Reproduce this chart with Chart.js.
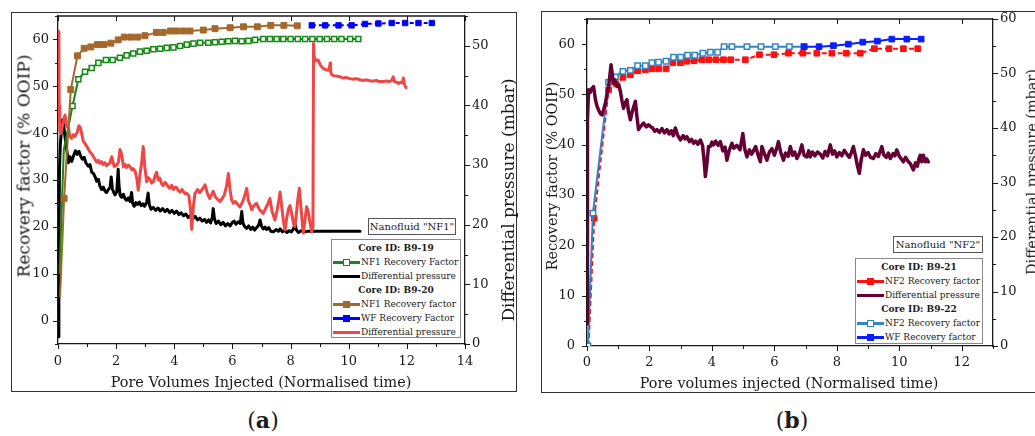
<!DOCTYPE html>
<html>
<head>
<meta charset="utf-8">
<script src="https://cdn.jsdelivr.net/npm/chart.js@4.4.1/dist/chart.umd.min.js"></script>
<style>
  html, body { margin: 0; padding: 0; background: #fff; }
  body { position: relative; width: 1035px; height: 436px; overflow: hidden;
         font-family: "DejaVu Serif", serif; color: #1a1a1a; }
  .frame { position: absolute; border: 1.5px solid #333; box-sizing: border-box; }
  canvas { position: absolute; top: 0; }
  .t { position: absolute; white-space: nowrap; font-size: 14.4px; line-height: 1; }
  .big { font-size: 17px; }
  .h { transform: translate(-50%, -50%); }
  .v { transform: translate(-50%, -50%) rotate(-90deg); }
  .tag { position: absolute; font-size: 22px; transform: translate(-50%, -50%); line-height: 1; }
  .note { position: absolute; border: 1.3px solid #555; background: #fff; box-sizing: border-box;
          font-size: 10px; display: flex; align-items: center; justify-content: center; white-space: nowrap; }
  .legend { position: absolute; border: 1px solid #888; background: #fff; box-sizing: border-box; font-size: 9px; }
  .legend .hdr { position: absolute; left: 0; right: 0; text-align: center; font-weight: bold;
                 transform: translateY(-50%); line-height: 1; }
  .legend .row { position: absolute; left: 0; right: 0; height: 0; }
  .legend .ln { position: absolute; left: 1px; width: 27px; top: -1.5px; height: 3px; }
  .legend .mk { position: absolute; left: 11px; top: -3.5px; width: 7px; height: 7px; box-sizing: border-box; }
  .legend .tx { position: absolute; left: 29px; top: 0; transform: translateY(-50%); white-space: nowrap; line-height: 1; }
</style>
</head>
<body>

<div class="frame" style="left:11px;top:12px;width:506px;height:380px"></div>
<div class="frame" style="left:541px;top:11px;width:520px;height:382px"></div>

<canvas id="chartA" width="525" height="400" style="left:0"></canvas>
<canvas id="chartB" width="505" height="400" style="left:530px"></canvas>

<!-- panel (a) text -->
<div class="t big v" style="left:24px;top:166px">Recovery factor (% OOIP)</div>
<div class="t big v" style="left:508px;top:200px">Differential pressure (mbar)</div>
<div class="t h" style="left:261px;top:382px">Pore Volumes Injected (Normalised time)</div>
<div class="tag" style="left:263px;top:420px">(<b>a</b>)</div>

<div class="note" style="left:368px;top:218px;width:88px;height:17px">Nanofluid "NF1"</div>
<div class="legend" style="left:331px;top:239px;width:130px;height:99px">
  <div class="hdr" style="top:8px">Core ID: B9-19</div>
  <div class="row" style="top:22px"><span class="ln" style="background:#138a13"></span><span class="mk" style="border:1.5px solid #138a13;background:#fff"></span><span class="tx">NF1 Recovery Factor</span></div>
  <div class="row" style="top:36px"><span class="ln" style="background:#000"></span><span class="tx">Differential pressure</span></div>
  <div class="hdr" style="top:50px">Core ID: B9-20</div>
  <div class="row" style="top:64px"><span class="ln" style="background:#a5682c"></span><span class="mk" style="background:#a5682c"></span><span class="tx">NF1 Recovery factor</span></div>
  <div class="row" style="top:78px"><span class="ln" style="background:#0000ff"></span><span class="mk" style="background:#0000ff"></span><span class="tx">WF Recovery Factor</span></div>
  <div class="row" style="top:92px"><span class="ln" style="background:#f04646"></span><span class="tx">Differential pressure</span></div>
</div>

<!-- panel (b) text -->
<div class="t v" style="left:552px;top:176px">Recovery factor (% OOIP)</div>
<div class="t v" style="left:1032px;top:172px">Differential pressure (mbar)</div>
<div class="t h" style="left:789px;top:383px">Pore volumes injected (Normalised time)</div>
<div class="tag" style="left:792px;top:420px">(<b>b</b>)</div>

<div class="note" style="left:893px;top:236px;width:90px;height:17px">Nanofluid "NF2"</div>
<div class="legend" style="left:855px;top:258px;width:128px;height:86px">
  <div class="hdr" style="top:8px">Core ID: B9-21</div>
  <div class="row" style="top:22px"><span class="ln" style="background:#ff1010"></span><span class="mk" style="background:#ff1010"></span><span class="tx">NF2 Recovery factor</span></div>
  <div class="row" style="top:36px"><span class="ln" style="background:#650035"></span><span class="tx">Differential pressure</span></div>
  <div class="hdr" style="top:50px">Core ID: B9-22</div>
  <div class="row" style="top:64px"><span class="ln" style="background:#2f86c4"></span><span class="mk" style="border:1.5px solid #2f86c4;background:#fff"></span><span class="tx">NF2 Recovery factor</span></div>
  <div class="row" style="top:78px"><span class="ln" style="background:#0a1eff"></span><span class="mk" style="background:#0a1eff"></span><span class="tx">WF Recovery factor</span></div>
</div>

<script>
// ---------- Panel (a): nanofluid NF1, cores B9-19 and B9-20 ----------
// Core B9-19, NF1 recovery factor (% OOIP)
const b919RfX = [0.05, 0.2, 0.5, 0.7, 0.93, 1.16, 1.39, 1.65, 1.88, 2.13, 2.36, 2.59, 2.82, 3.05, 3.28,
  3.51, 3.74, 3.97, 4.2, 4.43, 4.66, 4.89, 5.17, 5.4, 5.63, 5.86, 6.09, 6.32, 6.55, 6.78,
  7.06, 7.29, 7.52, 7.75, 8.0, 8.25, 8.5, 8.75, 9.0, 9.25, 9.5, 9.75, 10.05, 10.33];
const b919RfY = [10, 36.5, 45.8, 51.5, 53.1, 53.9, 55.0, 55.6, 55.6, 56.1, 56.6, 57.0, 57.4, 57.6, 57.9,
  58.0, 58.2, 58.3, 58.6, 58.9, 59.1, 59.3, 59.3, 59.4, 59.5, 59.6, 59.7, 59.6, 59.7, 59.9,
  60.1, 60.1, 60.1, 60.1, 60.1, 60.1, 60.1, 60.1, 60.1, 60.1, 60.1, 60.1, 60.1, 60.1];

// Core B9-19, differential pressure (mbar)
const b919DpX = [0.01, 0.03, 0.05, 0.08, 0.12, 0.16, 0.2, 0.24, 0.3, 0.36,
  0.41, 0.47, 0.53, 0.6, 0.66, 0.72, 0.78, 0.84, 0.9, 0.96,
  1.04, 1.1, 1.16, 1.22, 1.28, 1.33, 1.39, 1.44, 1.5, 1.56,
  1.62, 1.67, 1.73, 1.79, 1.83, 1.87, 1.92, 1.96, 2.02, 2.07,
  2.1, 2.14, 2.19, 2.25, 2.31, 2.36, 2.42, 2.48, 2.53, 2.57,
  2.62, 2.68, 2.74, 2.8, 2.86, 2.92, 2.98, 3.05, 3.1, 3.14,
  3.2, 3.28, 3.36, 3.44, 3.52, 3.6, 3.68, 3.76, 3.84, 3.92,
  4.0, 4.08, 4.16, 4.24, 4.32, 4.4, 4.48, 4.56, 4.64, 4.72,
  4.8, 4.88, 4.96, 5.04, 5.11, 5.18, 5.25, 5.31, 5.34, 5.38,
  5.44, 5.52, 5.6, 5.68, 5.76, 5.84, 5.92, 6.0, 6.06, 6.12,
  6.2, 6.27, 6.32, 6.36, 6.42, 6.49, 6.56, 6.63, 6.7, 6.76,
  6.83, 6.9, 6.95, 7.0, 7.06, 7.12, 7.18, 7.25, 7.32, 7.41,
  7.5, 7.58, 7.64, 7.72, 7.8, 7.87, 7.95, 8.03, 8.1, 8.15,
  8.2, 8.27, 8.36, 8.45, 8.6, 8.8, 9.2, 9.6, 10.0, 10.39];
const b919DpY = [1.2, 14, 29, 33.5, 35.8, 37.6, 36.4, 34.8, 32.6, 30.4,
  31.4, 30.6, 31.5, 32.4, 31.8, 32.3, 31.5, 31.0, 31.3, 30.4,
  29.8, 30.1, 28.8, 28.6, 28.0, 27.3, 27.6, 26.5, 25.9, 26.3,
  25.6, 25.4, 25.9, 26.2, 28.0, 26.0, 25.4, 25.0, 25.5, 29.3,
  26.5, 24.9, 24.6, 25.1, 24.3, 24.1, 24.5, 23.9, 25.4, 23.6,
  23.1, 23.7, 23.4, 23.8, 23.2, 23.5, 23.1, 23.8, 25.3, 23.4,
  22.6, 22.9, 22.4, 22.8, 22.3, 22.7, 22.2, 22.6, 22.0, 22.4,
  21.9, 22.3, 21.7, 22.0, 21.5, 21.8, 21.2, 21.6, 21.0, 21.4,
  20.8, 21.1, 20.6, 20.9, 20.4, 20.8, 20.3, 21.3, 22.7, 21.0,
  20.2, 20.6, 20.0, 20.4, 19.8, 20.2, 19.8, 20.4, 20.6, 20.1,
  20.5, 20.2, 22.2, 20.3, 19.7, 19.4, 19.8, 19.2, 19.6, 19.1,
  19.5, 19.9, 20.8, 19.8, 19.3, 19.6, 19.2, 19.5, 18.9, 18.8,
  19.2, 18.9, 19.3, 18.8, 19.1, 18.7, 19.0, 18.8, 19.3, 20.2,
  19.1, 18.7, 19.0, 18.8, 18.9, 18.9, 18.9, 18.9, 18.9, 18.9];

// Core B9-20, NF1 recovery factor and waterflood recovery factor (% OOIP)
const b920RfX = [0.07, 0.21, 0.44, 0.67, 0.9, 1.13, 1.36, 1.58, 1.82, 2.07, 2.28, 2.51, 2.74, 2.99,
  3.39, 3.62, 3.87, 4.08, 4.31, 4.54, 5.0, 5.4, 5.92, 6.38, 6.86, 7.32, 7.77, 8.23];
const b920RfY = [5, 26.1, 49.3, 56.5, 58.1, 58.4, 58.9, 58.9, 59.2, 59.9, 60.5, 60.5, 60.5, 60.8,
  61.5, 61.5, 61.8, 61.8, 61.8, 61.8, 62.0, 62.3, 62.5, 62.7, 62.7, 63.0, 63.0, 62.9];
const b920WfX = [8.73, 9.19, 9.65, 10.1, 10.56, 11.02, 11.48, 11.94, 12.4, 12.86];
const b920WfY = [63.0, 63.0, 63.0, 63.0, 63.3, 63.4, 63.5, 63.5, 63.5, 63.5];

// Core B9-20, differential pressure (mbar)
const b920DpX = [0.03, 0.04, 0.06, 0.1, 0.17, 0.24, 0.3, 0.36, 0.41, 0.47,
  0.53, 0.58, 0.66, 0.72, 0.76, 0.82, 0.87, 0.93, 0.99, 1.05,
  1.1, 1.16, 1.22, 1.28, 1.33, 1.39, 1.44, 1.5, 1.55, 1.61,
  1.67, 1.73, 1.78, 1.85, 1.93, 2.0, 2.08, 2.13, 2.19, 2.25,
  2.31, 2.36, 2.42, 2.48, 2.54, 2.59, 2.65, 2.71, 2.76, 2.82,
  2.88, 2.93, 2.99, 3.05, 3.1, 3.16, 3.22, 3.28, 3.34, 3.39,
  3.45, 3.5, 3.56, 3.62, 3.68, 3.74, 3.8, 3.85, 3.91, 3.97,
  4.03, 4.08, 4.14, 4.2, 4.26, 4.31, 4.37, 4.42, 4.5, 4.56,
  4.6, 4.65, 4.71, 4.8, 4.88, 4.97, 5.06, 5.14, 5.22, 5.28,
  5.34, 5.42, 5.5, 5.57, 5.65, 5.72, 5.8, 5.86, 5.92, 5.97,
  6.03, 6.1, 6.18, 6.26, 6.35, 6.43, 6.49, 6.55, 6.62, 6.66,
  6.74, 6.83, 6.92, 7.0, 7.06, 7.15, 7.22, 7.29, 7.36, 7.46,
  7.54, 7.6, 7.64, 7.7, 7.76, 7.81, 7.87, 7.93, 7.98, 8.05,
  8.1, 8.15, 8.2, 8.25, 8.3, 8.35, 8.4, 8.44, 8.5, 8.55,
  8.6, 8.66, 8.73, 8.77, 8.79, 8.81, 8.88, 8.95, 9.02, 9.07,
  9.15, 9.22, 9.3, 9.34, 9.36, 9.38, 9.42, 9.5, 9.6, 9.7,
  9.8, 9.9, 10.04, 10.15, 10.25, 10.39, 10.5, 10.62, 10.75, 10.85,
  10.95, 11.05, 11.19, 11.3, 11.4, 11.48, 11.53, 11.57, 11.65, 11.71,
  11.78, 11.85, 11.88, 11.92, 11.97];
const b920DpY = [52.4, 40.0, 36.0, 35.3, 37.0, 38.4, 36.5, 36.2, 34.8, 34.5,
  35.1, 34.8, 35.5, 36.6, 36.4, 35.2, 34.0, 33.6, 33.1, 32.6,
  32.2, 31.9, 31.4, 30.9, 30.5, 30.8, 30.3, 30.6, 30.1, 30.4,
  29.9, 30.2, 30.3, 31.4, 29.8, 29.9, 30.5, 32.6, 31.8, 29.7,
  30.1, 29.6, 30.0, 29.7, 29.2, 29.4, 29.0, 27.8, 25.8, 28.4,
  30.5, 33.1, 29.5, 27.2, 27.9, 27.6, 27.0, 27.2, 28.2, 28.8,
  27.5, 27.8, 26.9, 26.6, 27.1, 26.8, 26.3, 26.1, 26.6, 25.9,
  26.3, 26.2, 25.7, 25.5, 25.9, 25.6, 25.2, 25.3, 24.9, 22.5,
  19.2, 22.8, 25.2, 25.9, 25.4, 26.0, 26.7, 25.2, 24.4, 25.0,
  25.6, 24.6, 24.2, 23.9, 24.4, 25.0, 26.5, 28.6, 25.8, 24.2,
  23.6, 23.9, 23.4, 23.0, 23.8, 25.0, 26.1, 24.0, 23.2, 22.5,
  23.2, 23.6, 22.6, 22.2, 21.9, 22.8, 23.5, 24.4, 22.3, 20.8,
  22.5, 24.2, 25.5, 22.8, 20.4, 19.1, 21.2, 22.7, 23.2, 21.6,
  20.2, 19.7, 21.8, 24.3, 26.1, 23.4, 20.4, 18.6, 21.0, 23.0,
  22.4, 20.6, 18.8, 19.5, 50.4, 48.2, 47.5, 47.6, 46.8, 46.5,
  46.1, 46.0, 45.9, 46.4, 47.1, 45.6, 45.1, 45.0, 44.9, 44.8,
  44.6, 44.7, 44.5, 44.4, 44.5, 44.3, 44.2, 44.3, 44.1, 44.1,
  44.2, 44.0, 44.0, 44.1, 44.0, 44.2, 44.8, 44.0, 43.9, 43.7,
  43.9, 43.8, 44.6, 43.5, 43.0];

// ---------- Panel (b): nanofluid NF2, cores B9-21 and B9-22 ----------
// Core B9-21, NF2 recovery factor (% OOIP)
const b921RfX = [0.05, 0.23, 0.69, 0.93, 1.15, 1.39, 1.62, 1.87, 2.08, 2.29, 2.53, 2.75, 2.99, 3.2, 3.43,
  3.68, 3.9, 4.13, 4.37, 4.6, 5.07, 5.52, 5.99, 6.45, 6.91, 7.36, 7.84, 8.3, 8.75, 9.2, 9.67, 10.13, 10.59];
const b921RfY = [0, 25.4, 50.9, 52.1, 53.4, 53.9, 54.7, 54.9, 55.1, 55.1, 55.1, 56.3, 56.3, 56.6, 56.7,
  56.9, 56.9, 56.9, 56.9, 56.9, 56.9, 57.9, 57.9, 58.2, 58.2, 58.2, 58.2, 58.2, 58.2, 59.1, 59.1, 59.1, 59.1];

// Core B9-21, differential pressure (mbar)
const b921DpX = [0.0, 0.01, 0.02, 0.05, 0.1, 0.15, 0.21, 0.24, 0.27, 0.32,
  0.37, 0.43, 0.48, 0.53, 0.59, 0.64, 0.69, 0.73, 0.77, 0.81,
  0.85, 0.9, 0.96, 1.02, 1.07, 1.12, 1.17, 1.22, 1.28, 1.33,
  1.39, 1.44, 1.5, 1.55, 1.6, 1.65, 1.72, 1.81, 1.9, 1.97,
  2.03, 2.1, 2.17, 2.24, 2.32, 2.4, 2.48, 2.56, 2.63, 2.7,
  2.76, 2.83, 2.9, 2.99, 3.08, 3.14, 3.2, 3.28, 3.35, 3.41,
  3.48, 3.55, 3.63, 3.7, 3.75, 3.79, 3.84, 3.89, 3.95, 4.0,
  4.05, 4.12, 4.2, 4.27, 4.35, 4.42, 4.48, 4.55, 4.64, 4.7,
  4.8, 4.9, 4.99, 5.05, 5.12, 5.2, 5.27, 5.33, 5.4, 5.48,
  5.55, 5.6, 5.68, 5.76, 5.84, 5.92, 6.0, 6.08, 6.13, 6.2,
  6.29, 6.36, 6.44, 6.51, 6.58, 6.65, 6.72, 6.8, 6.88, 6.95,
  7.04, 7.1, 7.15, 7.22, 7.3, 7.38, 7.47, 7.55, 7.62, 7.7,
  7.79, 7.86, 7.93, 8.0, 8.08, 8.16, 8.24, 8.32, 8.4, 8.46,
  8.53, 8.6, 8.66, 8.72, 8.78, 8.85, 8.92, 9.0, 9.08, 9.17,
  9.25, 9.33, 9.44, 9.5, 9.58, 9.65, 9.71, 9.8, 9.86, 9.92,
  10.0, 10.07, 10.13, 10.2, 10.28, 10.36, 10.45, 10.52, 10.58, 10.63,
  10.67, 10.72, 10.77, 10.83, 10.88, 10.93];
const b921DpY = [4.1, 20, 41.5, 47, 46.5, 47.2, 47.6, 46.4, 45.2, 44.0,
  43.3, 42.6, 42.4, 43.3, 44.6, 46.2, 47.6, 49.5, 51.6, 49.8,
  48.2, 48.8, 47.6, 47.9, 46.7, 45.0, 43.6, 44.6, 45.2, 43.0,
  41.5, 42.8, 44.0, 44.9, 42.0, 39.7, 40.3, 40.9, 40.2, 40.6,
  40.3, 40.0, 39.4, 39.7, 39.2, 39.9, 39.1, 39.7, 38.9, 39.5,
  38.6, 40.0, 38.7, 37.8, 38.6, 38.0, 38.4, 37.5, 37.9, 37.2,
  37.6, 37.0, 37.8, 36.8, 34.0, 31.1, 33.5, 36.6, 36.6, 37.4,
  36.9, 37.6, 36.8, 37.5, 35.8, 36.5, 34.1, 35.8, 37.2, 36.3,
  36.8, 36.0, 39.0, 36.2, 34.7, 36.0, 35.2, 35.8, 36.6, 35.0,
  33.8, 36.6, 35.3, 34.1, 35.6, 36.2, 35.0, 36.4, 37.5, 35.6,
  34.1, 35.4, 34.8, 36.6, 35.0, 35.6, 34.4, 35.3, 36.9, 35.0,
  34.7, 35.8, 34.7, 35.6, 34.9, 35.6, 35.2, 34.5, 35.7, 34.9,
  36.9, 35.2, 35.8, 34.7, 35.5, 34.9, 35.9, 35.2, 34.6, 35.4,
  36.6, 34.8, 33.0, 31.7, 34.2, 36.0, 35.0, 35.5, 34.6, 34.4,
  35.3, 34.8, 36.6, 35.1, 34.6, 35.4, 34.4, 35.3, 34.9, 36.0,
  34.8, 34.3, 33.8, 34.6, 33.9, 33.4, 32.3, 33.6, 33.0, 34.4,
  35.0, 33.8, 35.0, 33.8, 34.3, 33.8];

// Core B9-22, NF2 recovery factor and waterflood recovery factor (% OOIP)
const b922RfX = [0.03, 0.19, 0.69, 0.91, 1.15, 1.39, 1.62, 1.87, 2.08, 2.29, 2.53, 2.77, 3.0, 3.22,
  3.45, 3.71, 3.95, 4.18, 4.39, 4.64, 5.12, 5.57, 6.03, 6.48, 6.95];
const b922RfY = [0, 26.4, 52.4, 53.5, 54.6, 54.8, 55.7, 55.7, 56.3, 56.4, 56.6, 57.4, 57.4, 57.8,
  57.8, 58.2, 58.4, 58.4, 59.5, 59.5, 59.5, 59.5, 59.5, 59.5, 59.5];
const b922WfX = [6.95, 7.43, 7.89, 8.37, 8.83, 9.3, 9.76, 10.24, 10.7];
const b922WfY = [59.5, 59.5, 59.7, 60.0, 60.4, 60.6, 61.0, 61.0, 61.0];

// ---------- drawing ----------
const INK = '#1a1a1a';
const TICK_FONT = { family: '"DejaVu Serif", serif', size: 13 };

const pts = (xs, ys) => xs.map((x, i) => ({ x, y: ys[i] }));

function pressureSet(xs, ys, color, width) {
  return { data: pts(xs, ys), yAxisID: 'y2', borderColor: color, borderWidth: width,
           pointRadius: 0, tension: 0, borderJoinStyle: 'round', borderCapStyle: 'round' };
}

// markers are left off the first `skip` samples of a curve (hidden start-up ramp)
function recoverySet(xs, ys, color, radius, skip, opts) {
  return Object.assign({ data: pts(xs, ys), yAxisID: 'y', borderColor: color, borderWidth: 2,
           pointStyle: 'rect', pointRadius: c => (c.dataIndex < skip ? 0 : radius), pointBorderWidth: 1,
           pointBackgroundColor: color, pointBorderColor: color, tension: 0 }, opts || {});
}

// Chart.js lays out the tick labels; the tick marks themselves are drawn by plotBox
function axis(o) {
  return {
    type: 'linear', position: o.position, min: o.min, max: o.max,
    afterFit: o.fit, every: o.every,
    grid: { display: false, drawTicks: true, tickLength: 5 },
    border: { display: true, color: INK, width: 1.3 },
    ticks: {
      stepSize: o.step, autoSkip: false, maxRotation: 0, padding: o.pad,
      font: TICK_FONT, color: INK,
      callback: v => (Math.abs(v % o.every) < 1e-6 ? String(v) : '')
    }
  };
}

// closes the plot box and draws major/minor tick marks on every axis
const plotBox = {
  id: 'plotBox',
  afterDraw(chart) {
    const { ctx, chartArea: a, scales } = chart;
    ctx.save();
    ctx.strokeStyle = INK;
    ctx.lineWidth = 1.3;
    ctx.beginPath();
    ctx.moveTo(a.left, a.top);
    ctx.lineTo(a.right, a.top);
    ctx.stroke();
    ctx.lineWidth = 1;
    ctx.beginPath();
    ['x', 'y', 'y2'].forEach(id => {
      const s = scales[id];
      const every = s.options.every;
      s.ticks.forEach(t => {
        const major = Math.abs(t.value % every) < 1e-6;
        const len = major ? 5 : 3;
        const p = Math.round(s.getPixelForValue(t.value)) + 0.5;
        if (id === 'x') {
          ctx.moveTo(p, a.bottom); ctx.lineTo(p, a.bottom + len);
          if (major) { ctx.moveTo(p, a.top); ctx.lineTo(p, a.top + 5); }
        } else if (id === 'y') {
          ctx.moveTo(a.left, p); ctx.lineTo(a.left - len, p);
        } else {
          ctx.moveTo(a.right, p); ctx.lineTo(a.right + len, p);
        }
      });
    });
    ctx.stroke();
    ctx.restore();
  }
};

function baseOptions(padTop, scales) {
  return {
    responsive: false, animation: false, devicePixelRatio: 1, events: [],
    layout: { padding: { top: padTop, left: 0, right: 0, bottom: 0 } },
    plugins: { legend: { display: false }, tooltip: { enabled: false } },
    scales
  };
}

new Chart(document.getElementById('chartA'), {
  type: 'line',
  data: {
    datasets: [
      recoverySet(b920WfX, b920WfY, '#0000ff', 3.8, 0, { borderDash: [4, 3] }),
      recoverySet(b920RfX, b920RfY, '#a5682c', 4.2, 1),
      pressureSet(b920DpX, b920DpY, '#f04646', 3),
      recoverySet(b919RfX, b919RfY, '#138a13', 3.6, 2, { pointBackgroundColor: '#fff', pointBorderWidth: 1.5 }),
      pressureSet(b919DpX, b919DpY, '#000', 3)
    ]
  },
  options: baseOptions(16, {
    x: axis({ position: 'bottom', min: 0, max: 14, step: 1, every: 2, pad: 5, fit: s => { s.height = 56; } }),
    y: axis({ position: 'left', min: -5, max: 65, step: 5, every: 10, pad: 4, fit: s => { s.width = 58; } }),
    y2: axis({ position: 'right', min: 0, max: 55, step: 5, every: 10, pad: 2, fit: s => { s.width = 60; } })
  }),
  plugins: [plotBox]
});

new Chart(document.getElementById('chartB'), {
  type: 'line',
  data: {
    datasets: [
      pressureSet(b921DpX, b921DpY, '#650035', 3.5),
      recoverySet(b922WfX, b922WfY, '#0a1eff', 4, 0),
      recoverySet(b922RfX, b922RfY, '#2f86c4', 3.8, 0, { pointBackgroundColor: '#fff', pointBorderWidth: 1.5 }),
      recoverySet(b921RfX, b921RfY, '#ff1010', 4, 1, { borderDash: [5, 3] })
    ]
  },
  options: baseOptions(19, {
    x: axis({ position: 'bottom', min: 0, max: 13, step: 1, every: 2, pad: 4, fit: s => { s.height = 54; } }),
    y: axis({ position: 'left', min: 0, max: 65, step: 5, every: 10, pad: 7, fit: s => { s.width = 57; } }),
    y2: axis({ position: 'right', min: 0, max: 60, step: 5, every: 10, pad: 2, fit: s => { s.width = 42; } })
  }),
  plugins: [plotBox]
});
</script>
</body>
</html>
